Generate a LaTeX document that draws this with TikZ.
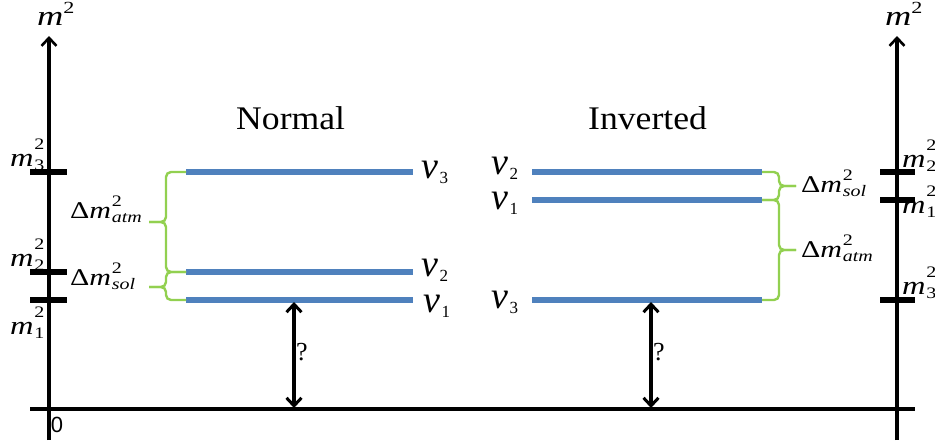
\documentclass[tikz,border=0pt]{standalone}
\usepackage{fontspec}
\setmainfont{Liberation Serif}
\newfontfamily\zerofont{Liberation Sans}
\usetikzlibrary{arrows.meta}
\definecolor{lvlblue}{RGB}{79,129,189}
\definecolor{brgreen}{RGB}{146,208,80}
\newcommand\fs[1]{\fontsize{#1}{#1}\selectfont}
% m^2_k style label: #1 base, #2 subscript, #3 base size, #4 superscript raise
\newcommand\sqlab[4]{\scalebox{1.25}[1]{{\fs{#3}#1}\kern0.5pt{\fs{16}\rlap{\raisebox{#4}{2}}\raisebox{-0.25em}{#2}}}}
\newcommand\nulab[1]{{\fs{38}\textit{ν}}\kern1.5pt{\fs{17}\raisebox{-0.33em}{#1}}}
\tikzset{
  axis/.style={line width=3.2pt},
  tick/.style={line width=6pt},
  level/.style={line width=5.5pt, lvlblue},
  brace/.style={line width=2.4pt, brgreen, rounded corners=5pt},
  gap/.style={line width=3.2pt, {Straight Barb[length=8pt,width=15pt,line width=3pt]}-{Straight Barb[length=8pt,width=15pt,line width=3pt]}},
  lbl/.style={inner sep=0pt, anchor=base west},
}
\begin{document}
\begin{tikzpicture}[x=1pt,y=-1pt]
\useasboundingbox (0,0) rectangle (935,442);
% axes
\coordinate (Lb) at (49,440); \coordinate (Lt) at (49,36);
\coordinate (Rb) at (897,440); \coordinate (Rt) at (897,36);
\coordinate (Hl) at (30,409); \coordinate (Hr) at (915,409);
\draw[axis,-{Straight Barb[length=8pt,width=15pt,line width=2.6pt]}] (Lb) -- (Lt);
\draw[axis,-{Straight Barb[length=8pt,width=15pt,line width=2.6pt]}] (Rb) -- (Rt);
\draw[axis] (Hl) -- (Hr);
\node[lbl] (mL) at (37,25) {\scalebox{1.3}[1]{{\fs{28}\textit{m}}{\fs{17}\raisebox{0.7em}{2}}}};
\node[lbl] (mR) at (885,25) {\scalebox{1.3}[1]{{\fs{28}\textit{m}}{\fs{17}\raisebox{0.7em}{2}}}};
\node[inner sep=0pt] (zero) at (57,425) {\zerofont\fs{22}0};
% ticks
\foreach \y in {172,272,300} {\draw[tick] (30,\y) -- (67,\y);}
\foreach \y in {172,200,300} {\draw[tick] (880,\y) -- (915,\y);}
\node[lbl] (lm3) at (10,166) {\sqlab{\textit{m}}{3}{26}{1.05em}};
\node[lbl] (lm2) at (10,266) {\sqlab{\textit{m}}{2}{26}{1.05em}};
\node[lbl] (lm1) at (10,334) {\sqlab{\textit{m}}{1}{26}{1.05em}};
\node[lbl] (rm2) at (902,167) {\sqlab{\textit{m}}{2}{26}{1.05em}};
\node[lbl] (rm1) at (902,213) {\sqlab{\textit{m}}{1}{26}{1.05em}};
\node[lbl] (rm3) at (902,294) {\sqlab{\textit{m}}{3}{26}{1.05em}};
% titles
\node[lbl] (tN) at (236,129) {\scalebox{1.08}[1]{\fs{33}Normal}};
\node[lbl] (tI) at (588,129) {\scalebox{1.08}[1]{\fs{33}Inverted}};
% normal levels
\coordinate (n3a) at (186,172); \coordinate (n3b) at (413,172);
\coordinate (n2a) at (186,272); \coordinate (n2b) at (413,272);
\coordinate (n1a) at (186,300); \coordinate (n1b) at (413,300);
\draw[level] (n3a) -- (n3b);
\draw[level] (n2a) -- (n2b);
\draw[level] (n1a) -- (n1b);
\node[lbl] (nu3n) at (421,178) {\nulab{3}};
\node[lbl] (nu2n) at (421,276) {\nulab{2}};
\node[lbl] (nu1n) at (423,312) {\nulab{1}};
% inverted levels
\coordinate (i2a) at (532,172); \coordinate (i2b) at (762,172);
\coordinate (i1a) at (532,200); \coordinate (i1b) at (762,200);
\coordinate (i3a) at (532,300); \coordinate (i3b) at (762,300);
\draw[level] (i2a) -- (i2b);
\draw[level] (i1a) -- (i1b);
\draw[level] (i3a) -- (i3b);
\node[lbl] (nu2i) at (491,174) {\nulab{2}};
\node[lbl] (nu1i) at (491,209) {\nulab{1}};
\node[lbl] (nu3i) at (491,308) {\nulab{3}};
% braces normal
\coordinate (tipA) at (149,222); \coordinate (tipS) at (149,287);
\draw[brace] (n3a) -- (166,172) -- (166,222) -- (tipA);
\draw[brace] (n2a) -- (166,272) -- (166,222) -- (tipA);
\draw[brace] (n2a) -- (166,272) -- (166,287) -- (tipS);
\draw[brace] (n1a) -- (166,300) -- (166,287) -- (tipS);
\node[lbl] (dAn) at (70,218) {\sqlab{Δ\textit{m}}{\textit{atm}}{24}{0.75em}};
\node[lbl] (dSn) at (70,285) {\sqlab{Δ\textit{m}}{\textit{sol}}{24}{0.75em}};
% braces inverted
\coordinate (tipS2) at (796,186); \coordinate (tipA2) at (796,250);
\draw[brace] (i2b) -- (779,172) -- (779,186) -- (tipS2);
\draw[brace] (i1b) -- (779,200) -- (779,186) -- (tipS2);
\draw[brace] (i1b) -- (779,200) -- (779,250) -- (tipA2);
\draw[brace] (i3b) -- (779,300) -- (779,250) -- (tipA2);
\node[lbl] (dSi) at (801,192) {\sqlab{Δ\textit{m}}{\textit{sol}}{24}{0.75em}};
\node[lbl] (dAi) at (801,257) {\sqlab{Δ\textit{m}}{\textit{atm}}{24}{0.75em}};
% gaps
\coordinate (gNt) at (294,302); \coordinate (gNb) at (294,408);
\coordinate (gIt) at (651,302); \coordinate (gIb) at (651,408);
\draw[gap] (gNb) -- (gNt);
\draw[gap] (gIb) -- (gIt);
\node[inner sep=0pt] (qN) at (302,352) {\fs{26}?};
\node[inner sep=0pt] (qI) at (659,352) {\fs{26}?};
\end{tikzpicture}
\end{document}
